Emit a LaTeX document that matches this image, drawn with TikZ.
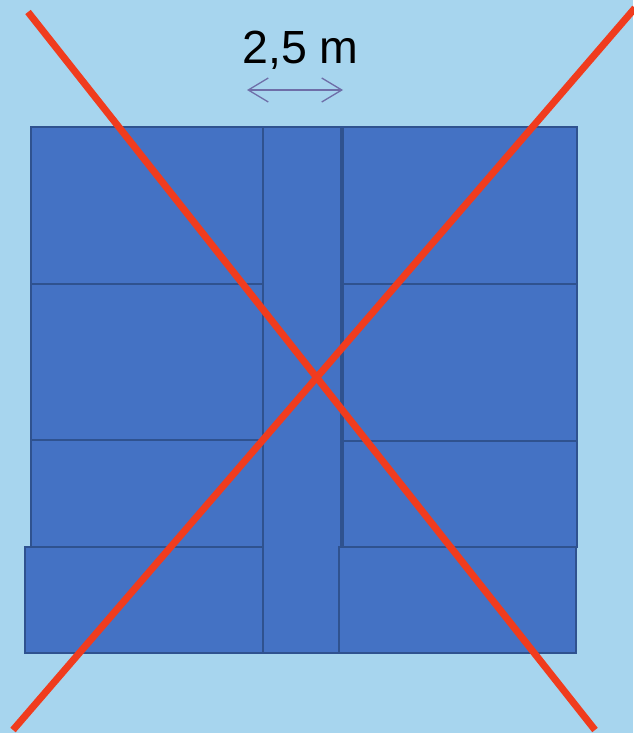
\documentclass[tikz,border=0pt]{standalone}
\usepackage{fontspec}
\setmainfont{Liberation Sans}
\usetikzlibrary{arrows.meta}
\definecolor{bgblue}{HTML}{A7D5EE}
\definecolor{boxblue}{HTML}{4472C4}
\definecolor{boxedge}{HTML}{2F528F}
\definecolor{crossred}{HTML}{F03C1E}
\definecolor{arrowcol}{HTML}{6E6EA8}
\tikzset{
  plot/.style={fill=boxblue, draw=boxedge, line width=2pt},
  crossline/.style={draw=crossred, line width=7pt},
  dim/.style={draw=arrowcol, line width=1.3pt, {Straight Barb[length=20pt,width=24pt]}-{Straight Barb[length=20pt,width=24pt]}},
}
\begin{document}
\begin{tikzpicture}[x=1pt,y=-1pt]
\fill[bgblue] (0,0) rectangle (633,733);
\useasboundingbox (0,0) rectangle (633,733);
% middle corridor
\path[plot] (263,127) rectangle (341,653);
% left plots
\path[plot] (31,127) rectangle (263,284);
\path[plot] (31,284) rectangle (263,440);
\path[plot] (31,440) rectangle (263,547);
\path[plot] (25,547) rectangle (263,653);
% right plots
\path[plot] (343,127) rectangle (577,284);
\path[plot] (343,284) rectangle (577,441);
\path[plot] (343,441) rectangle (577,547);
\path[plot] (339,547) rectangle (576,653);
% dimension
\node[font=\fontsize{46.5}{52}\selectfont, text=black, inner sep=0pt] (lbl) at (300.5,50) {2,5 m};
\coordinate (al) at (247,90);
\coordinate (ar) at (343,90);
\draw[dim] (al) -- (ar);
% cross
\coordinate (c1a) at (28,12);
\coordinate (c1b) at (595,730);
\coordinate (c2a) at (13,730);
\coordinate (c2b) at (635,8);
\draw[crossline] (c1a) -- (c1b);
\draw[crossline] (c2a) -- (c2b);
\end{tikzpicture}
\end{document}
